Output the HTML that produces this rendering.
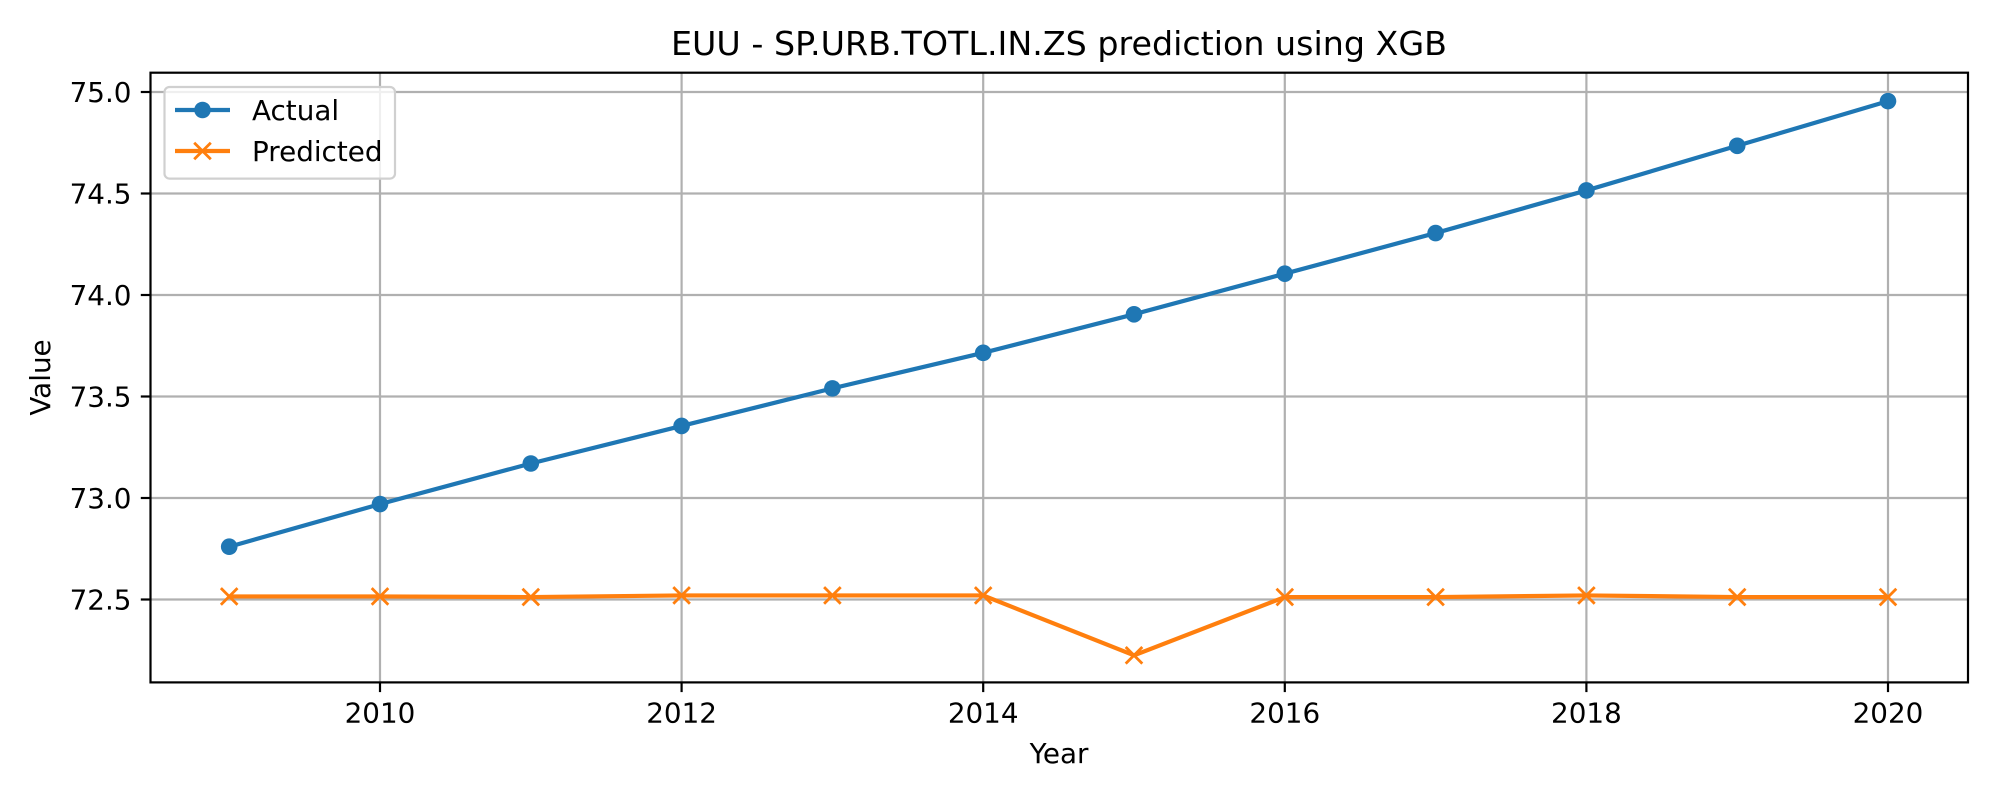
<!DOCTYPE html>
<html><head><meta charset="utf-8"><style>
body{margin:0;background:#fff;}
svg{display:block;font-family:"DejaVu Sans","Liberation Sans",sans-serif;}
</style></head><body>
<svg id="chart" width="2000" height="800" viewBox="0 0 2000 800">
<rect width="2000" height="800" fill="#fff"/>
<g id="grid"></g>
<g id="ticks"></g>
<g id="series"></g>
<rect x="150.5" y="72.7" width="1817.5" height="609.7" fill="none" stroke="#000" stroke-width="2.2"/>
<text x="1059" y="55" font-size="33.3" text-anchor="middle">EUU - SP.URB.TOTL.IN.ZS prediction using XGB</text>
<text x="1059" y="763" font-size="27.8" text-anchor="middle">Year</text>
<text x="0" y="0" font-size="27.8" text-anchor="middle" transform="translate(50,377.5) rotate(-90)">Value</text>
<g>
<rect x="164.5" y="87" width="230.5" height="91.6" rx="5" fill="#fff" fill-opacity="0.8" stroke="#d0d0d0" stroke-width="2.2"/>
<g>
<line x1="175" y1="110" x2="230" y2="110" stroke="#1f77b4" stroke-width="4.2"/>
<circle cx="202.5" cy="110" r="8.3" fill="#1f77b4"/>
<text x="252" y="120" font-size="27.8">Actual</text></g>
<g>
<line x1="175" y1="151" x2="230" y2="151" stroke="#ff7f0e" stroke-width="4.2"/>
<path d="M194.2 142.7L210.8 159.3M194.2 159.3L210.8 142.7" stroke="#ff7f0e" stroke-width="2.8"/>
<text x="252" y="161" font-size="27.8">Predicted</text></g>
</g>
</svg>
<script>
const years=[2009,2010,2011,2012,2013,2014,2015,2016,2017,2018,2019,2020];
const actual=[72.76,72.97,73.17,73.355,73.54,73.715,73.905,74.105,74.305,74.515,74.735,74.955];
const predicted=[72.515,72.515,72.512,72.52,72.52,72.52,72.225,72.512,72.512,72.52,72.512,72.512];
const xTicks=[2010,2012,2014,2016,2018,2020];
const yTicks=[72.5,73.0,73.5,74.0,74.5,75.0];
const L=150.5,R=1968,T=72.7,B=682.4;
const xs=v=>380+(v-2010)*150.8;
const ys=v=>599.5-(v-72.5)*203;
const NS="http://www.w3.org/2000/svg";
function mk(tag,attrs,parent){const e=document.createElementNS(NS,tag);for(const k in attrs)e.setAttribute(k,attrs[k]);parent.appendChild(e);return e;}
const grid=document.getElementById('grid'),ticks=document.getElementById('ticks'),series=document.getElementById('series');
xTicks.forEach(t=>{
 const x=xs(t);
 const g=mk('line',{x1:x,x2:x,y1:T,y2:B,stroke:'#b0b0b0','stroke-width':2.2},grid);
 
 
 const tk=mk('line',{x1:x,x2:x,y1:B,y2:B+9.7,stroke:'#000','stroke-width':2.2},ticks);
 
 
 const lb=mk('text',{x:x,y:B+40,'font-size':27.8,'text-anchor':'middle'},ticks);
 lb.textContent=String(t);
 
 
});
yTicks.forEach(t=>{
 const y=ys(t);
 const g=mk('line',{x1:L,x2:R,y1:y,y2:y,stroke:'#b0b0b0','stroke-width':2.2},grid);
 
 
 const tk=mk('line',{x1:L-9.7,x2:L,y1:y,y2:y,stroke:'#000','stroke-width':2.2},ticks);
 
 
 const lb=mk('text',{x:L-19,y:y+10,'font-size':27.8,'text-anchor':'end'},ticks);
 lb.textContent=t.toFixed(1);
 
 
});
const pa=mk('polyline',{points:years.map((y,i)=>xs(y)+','+ys(actual[i])).join(' '),fill:'none',stroke:'#1f77b4','stroke-width':4.2,'stroke-linejoin':'round'},series);


years.forEach((y,i)=>{
 const c=mk('circle',{cx:xs(y),cy:ys(actual[i]),r:8.3,fill:'#1f77b4'},series);
 
 
});
const pp=mk('polyline',{points:years.map((y,i)=>xs(y)+','+ys(predicted[i])).join(' '),fill:'none',stroke:'#ff7f0e','stroke-width':4.2,'stroke-linejoin':'round'},series);


years.forEach((y,i)=>{
 const x=xs(y),v=ys(predicted[i]),d=8.3;
 const m=mk('path',{d:`M${x-d} ${v-d}L${x+d} ${v+d}M${x-d} ${v+d}L${x+d} ${v-d}`,stroke:'#ff7f0e','stroke-width':2.8},series);
 
 
});
</script>
</body></html>
